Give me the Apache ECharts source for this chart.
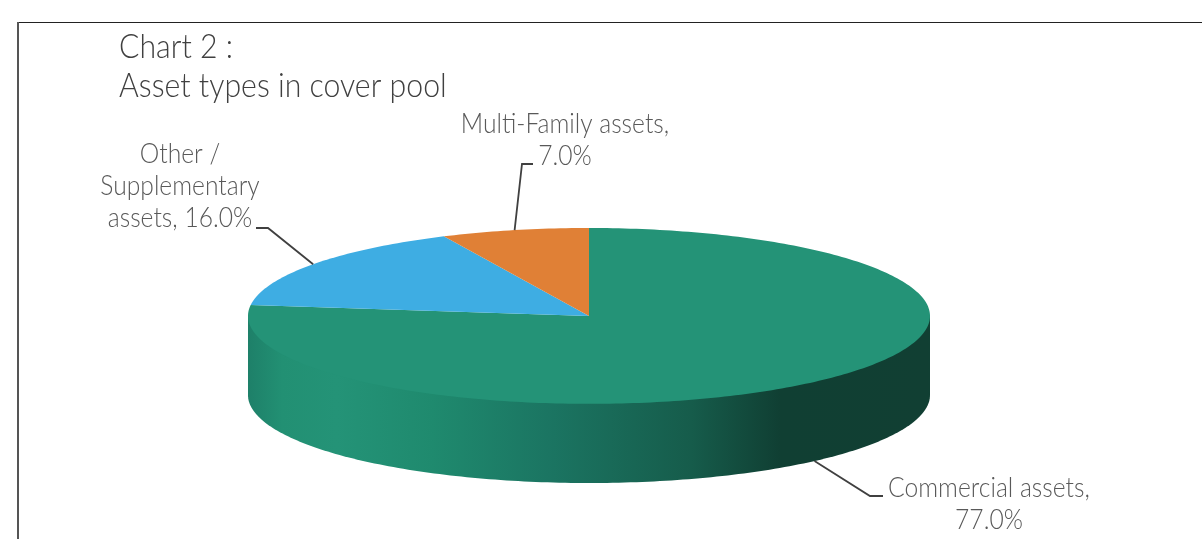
<!DOCTYPE html>
<html>
<head>
<meta charset="utf-8">
<style>
  html, body { margin: 0; padding: 0; background: #fff; }
  #main { width: 1202px; height: 539px; }
</style>
<script src="https://cdn.jsdelivr.net/npm/echarts@6/dist/echarts.min.js"></script>
</head>
<body>
<div id="main"></div>
<script>
var titleLines = ['Chart 2 :', 'Asset types in cover pool']
// clockwise from 12 o'clock
var categories = ['Commercial assets', 'Other /\nSupplementary\nassets', 'Multi-Family assets']
var shares = [77.0, 16.0, 7.0]
var labelSeparators = [',\n', ', ', ',\n']
var sliceColors = ['#249377', '#3eade3', '#e08036']

var fontName = 'Lato, "Open Sans", sans-serif'
var TITLE_NARROW = 0.89 // the original face is narrower than anything installed
var LABEL_NARROW = 0.88
var DEPTH = 0.9 // wall height, in units of the short radius

// label centre and leader elbow for each slice, in page pixels
var labelLayout = [
  { x: 989, y: 504, elbow: [870, 496], end: [883, 496] },
  { x: 180, y: 186, elbow: [268, 228], end: [256, 228] },
  { x: 565, y: 140, elbow: [522, 164], end: [533, 164] }
]

function startShare(index) {
  var sum = 0
  for (var i = 0; i < index; i++) sum += shares[i]
  return sum
}

function arcPoints(api, from, to, drop) {
  var pts = []
  var steps = Math.max(2, Math.ceil(Math.abs(to - from)))
  for (var i = 0; i <= steps; i++) {
    var deg = from + (to - from) * i / steps
    var rad = deg * Math.PI / 180
    pts.push(api.coord([Math.sin(rad), Math.cos(rad) - drop]))
  }
  return pts
}

function renderSlice(params, api) {
  var index = params.dataIndex
  var value = api.value(0)
  var total = shares.reduce(function (a, b) { return a + b }, 0)
  var from = startShare(index) / total * 360
  var to = from + value / total * 360
  var mid = (from + to) / 2
  var children = []

  // front wall, only the part between 90 and 270 degrees can be seen
  // it closes with a chord under the top face so no white seam shows along the rim
  var sideFrom = Math.max(from, 90)
  var sideTo = Math.min(to, 270)
  if (sideTo > sideFrom) {
    var upper = arcPoints(api, sideFrom, sideTo, 0)
    var lower = arcPoints(api, sideFrom, sideTo, DEPTH)
    children.push({
      type: 'polygon',
      z2: 1,
      shape: { points: [upper[0]].concat(lower, [upper[upper.length - 1]]) },
      style: {
        fill: new echarts.graphic.LinearGradient(0, 0, 1, 0, [
          { offset: 0, color: '#1e8069' },
          { offset: 0.05, color: '#229073' },
          { offset: 0.13, color: '#249377' },
          { offset: 0.27, color: '#1f8a6e' },
          { offset: 0.44, color: '#1b7562' },
          { offset: 0.65, color: '#165c4b' },
          { offset: 0.78, color: '#103f33' },
          { offset: 1, color: '#113f33' }
        ])
      }
    })
  }

  // top face
  children.push({
    type: 'polygon',
    z2: 2,
    shape: { points: [api.coord([0, 0])].concat(arcPoints(api, from, to, 0)) },
    style: { fill: sliceColors[index] }
  })

  // leader line, starts on the rim at the middle of the slice
  var layout = labelLayout[index]
  var midRad = mid * Math.PI / 180
  var onFront = mid > 90 && mid < 270
  var anchor = api.coord([Math.sin(midRad), Math.cos(midRad) - (onFront ? DEPTH : 0)])
  children.push({
    type: 'polyline',
    z2: 3,
    shape: { points: [anchor, layout.elbow, layout.end] },
    style: { fill: null, stroke: '#404040', lineWidth: 1.8 }
  })

  children.push({
    type: 'text',
    z2: 4,
    x: layout.x,
    y: layout.y,
    scaleX: LABEL_NARROW,
    style: {
      text: categories[index] + labelSeparators[index] + value.toFixed(1) + '%',
      font: '300 28px ' + fontName,
      fill: '#595959',
      align: 'center',
      verticalAlign: 'middle',
      lineHeight: 32
    }
  })

  return { type: 'group', children: children }
}

var myChart = echarts.init(document.getElementById('main'), null, { renderer: 'canvas' })
var option = {
  animation: false,
  backgroundColor: '#ffffff',
  graphic: [{
    type: 'line',
    silent: true,
    shape: { x1: 18, y1: 22.5, x2: 1202, y2: 22.5 },
    style: { stroke: '#222222', lineWidth: 1 }
  }, {
    type: 'line',
    silent: true,
    shape: { x1: 18, y1: 22, x2: 18, y2: 539 },
    style: { stroke: '#555555', lineWidth: 2 }
  }, {
    type: 'text',
    silent: true,
    x: 119,
    y: 47,
    scaleX: TITLE_NARROW,
    style: { text: titleLines[0], font: '300 34px ' + fontName, fill: '#404040', verticalAlign: 'middle' }
  }, {
    type: 'text',
    silent: true,
    x: 119,
    y: 86,
    scaleX: TITLE_NARROW,
    style: { text: titleLines[1], font: '300 34px ' + fontName, fill: '#404040', verticalAlign: 'middle' }
  }],
  // unit circle on the top face, squashed by the grid's own aspect
  grid: { left: 248, top: 228, width: 682, height: 255 },
  xAxis: { type: 'value', min: -1, max: 1, show: false },
  yAxis: { type: 'value', min: -1 - DEPTH, max: 1, show: false },
  series: [{
    type: 'custom',
    coordinateSystem: 'cartesian2d',
    clip: false,
    renderItem: renderSlice,
    encode: { x: 1, y: 2 },
    data: shares.map(function (v) { return [v, 0, 0] })
  }]
}
myChart.setOption(option)
</script>
</body>
</html>
